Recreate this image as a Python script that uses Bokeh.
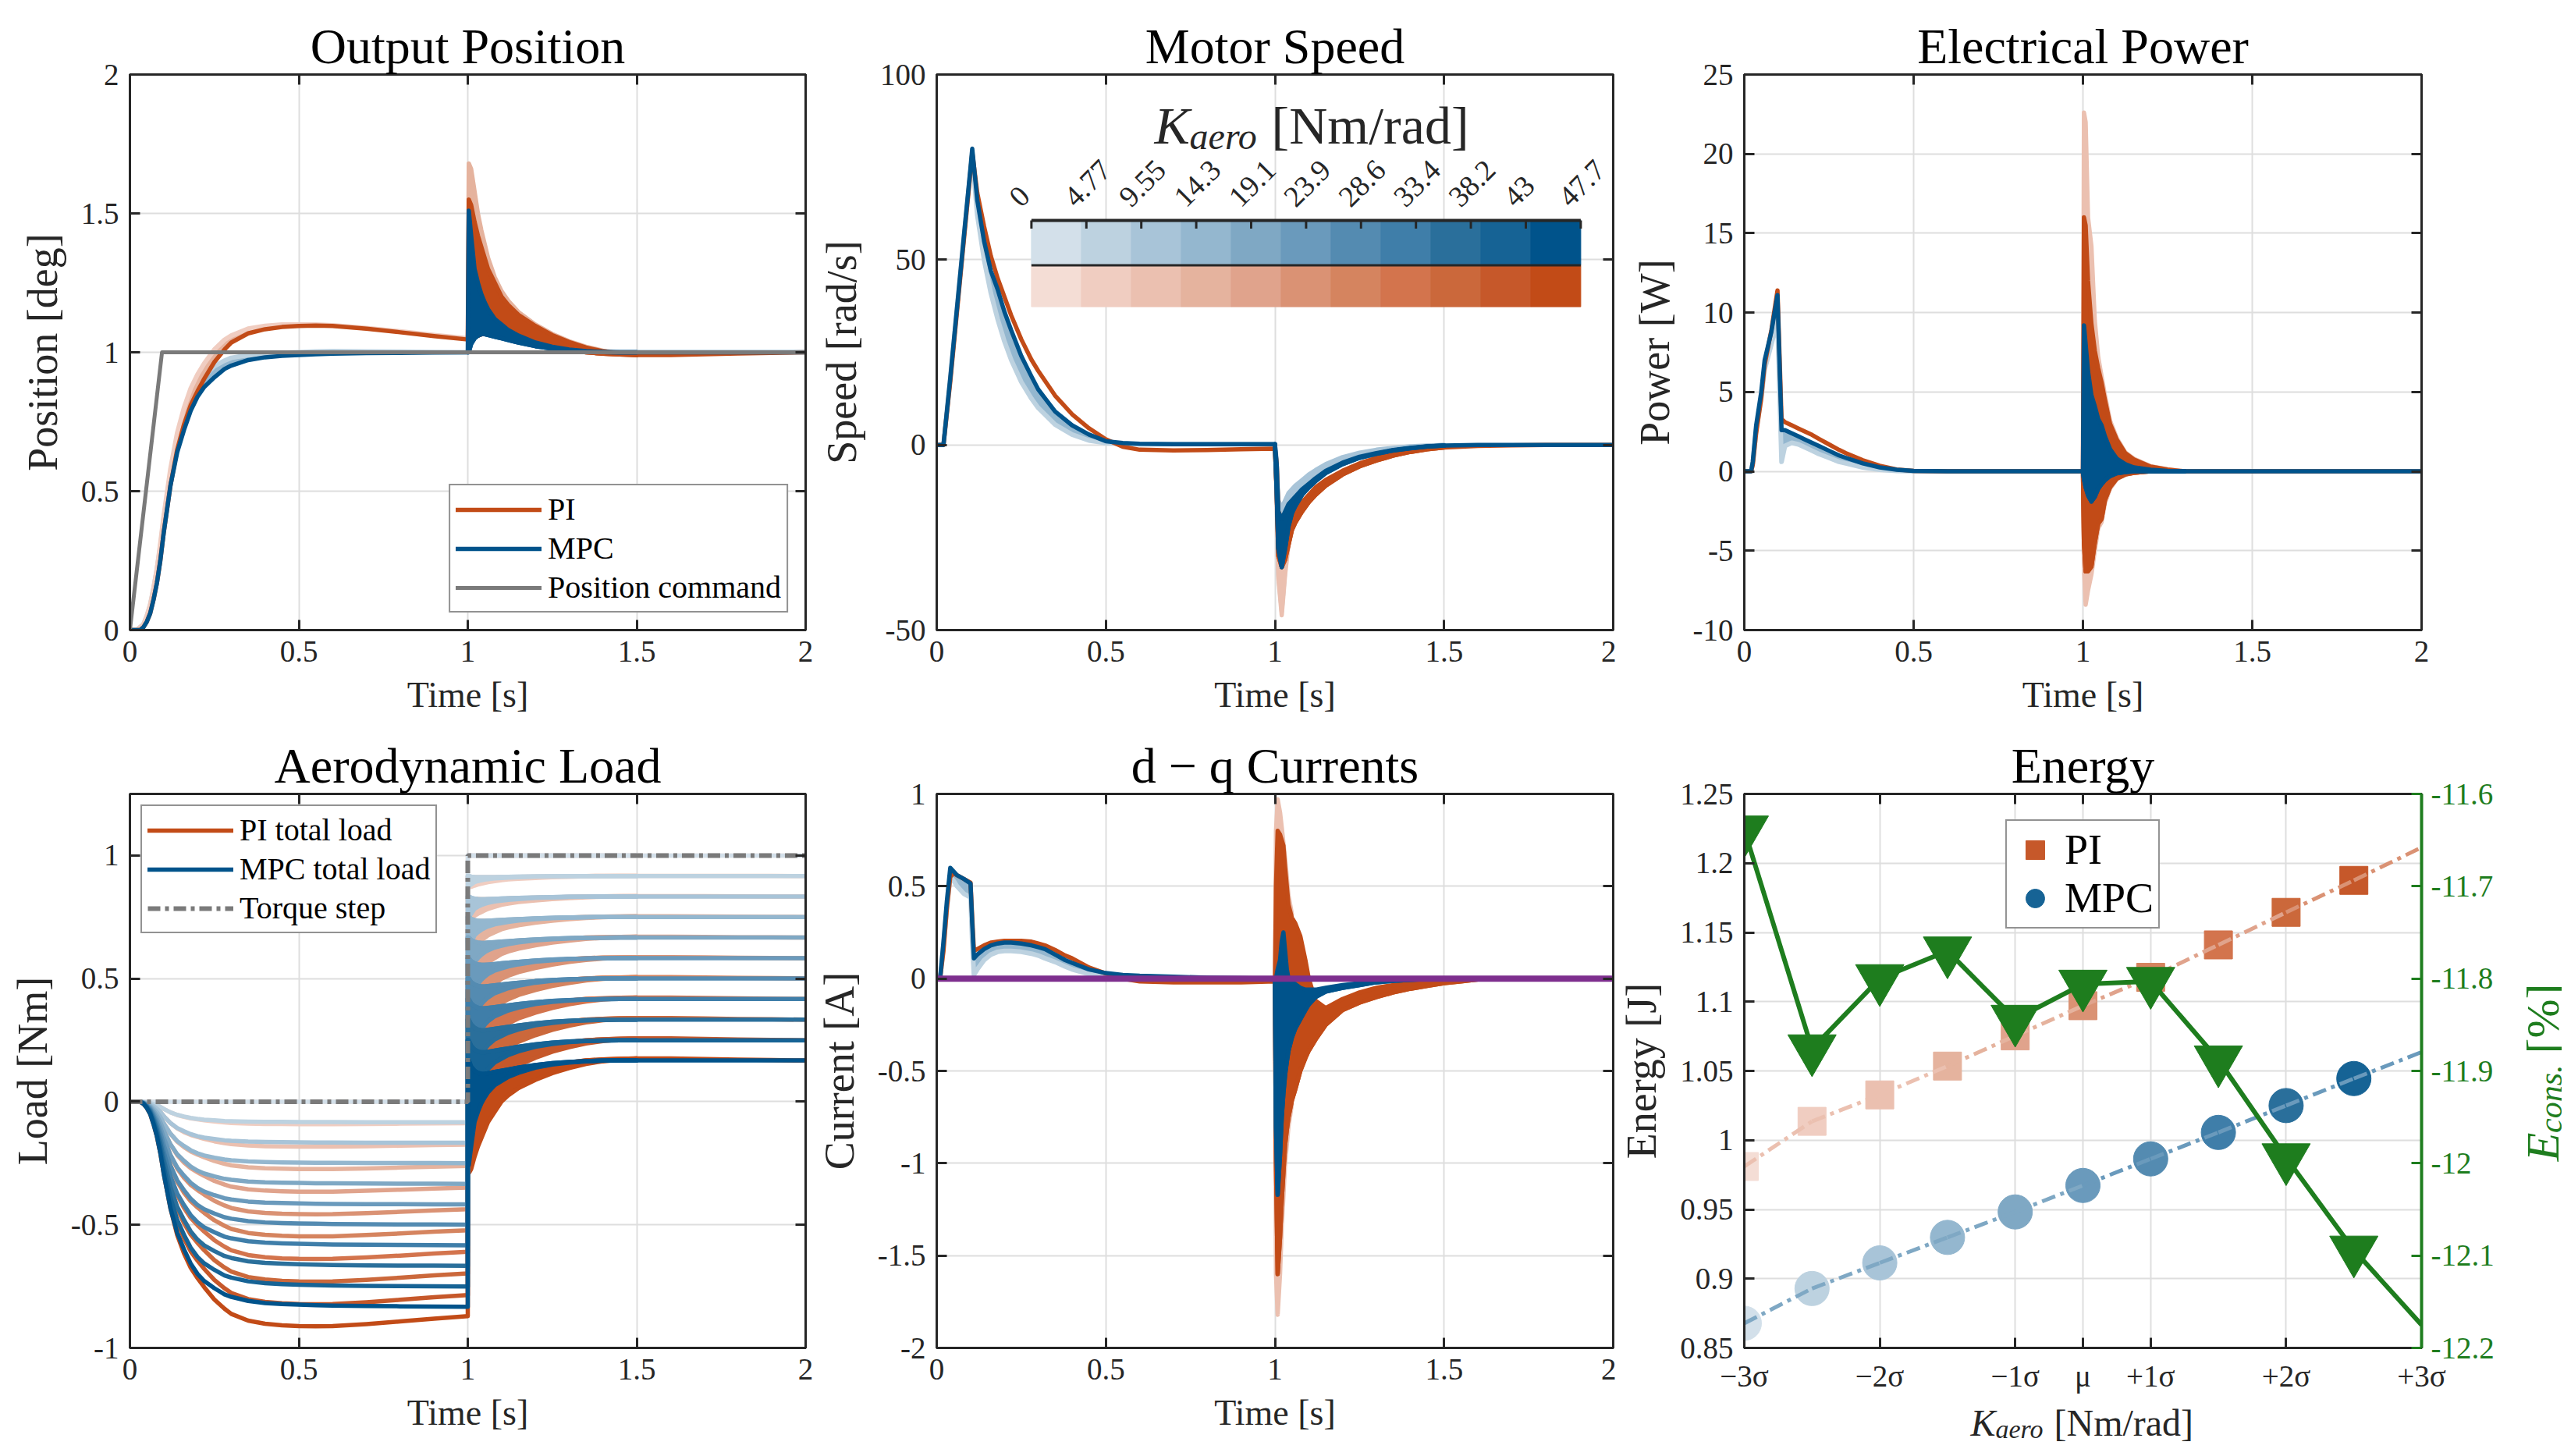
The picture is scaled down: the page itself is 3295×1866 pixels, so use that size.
import numpy as np
from math import pi
from bokeh.plotting import figure
from bokeh.models import (LinearAxis, Range1d, FixedTicker, Legend, LegendItem,
                          Label, LabelSet, ColumnDataSource)
from bokeh.layouts import row, column
from bokeh.embed import file_html
from bokeh.resources import INLINE
from bokeh.core.properties import value

FONT = "Liberation Serif"
AX = "#262626"
GRID = "#dedede"
GREEN = "#1e7d1e"
GRAY = "#7a7a7a"
PURPLE = "#7e2f8e"
LW = 5.5

# ---------------------------------------------------------------- data
K_AERO = [0, 4.77, 9.55, 14.3, 19.1, 23.9, 28.6, 33.4, 38.2, 43, 47.7]
K_LABELS = ["0", "4.77", "9.55", "14.3", "19.1", "23.9", "28.6", "33.4", "38.2", "43", "47.7"]
BLUES = ["#d3e0ea", "#bdd2e0", "#a8c4d8", "#94b7cf", "#7fa8c4", "#6a9abc",
         "#548bb1", "#3f7ea9", "#2a6f9b", "#166395", "#00538b"]
ORANGES = ["#f4ddd5", "#f0cdc1", "#ebc0b0", "#e5b39e", "#e0a38c", "#da9274",
           "#d5845f", "#d3744d", "#cb683b", "#c6582a", "#c24b17"]

TIME_TICKS = [0, 0.5, 1, 1.5, 2]

# Output position [deg]
T_POS = [0, 0.02, 0.03, 0.04, 0.05, 0.06, 0.07, 0.08, 0.09, 0.10, 0.12, 0.14, 0.16, 0.18,
         0.20, 0.22, 0.25, 0.28, 0.30, 0.35, 0.40, 0.45, 0.50, 0.55, 0.60, 0.70, 0.80, 0.90, 1.00]
POS_MPC_DARK = [0, 0, 0, 0.01, 0.03, 0.06, 0.11, 0.17, 0.25, 0.35, 0.52, 0.64, 0.72, 0.79,
                0.84, 0.875, 0.91, 0.94, 0.952, 0.972, 0.982, 0.987, 0.99, 0.993, 0.995, 0.997, 0.998, 0.999, 1.0]
POS_PI_DARK = [0, 0, 0, 0.01, 0.03, 0.06, 0.11, 0.17, 0.25, 0.35, 0.52, 0.65, 0.74, 0.81,
               0.86, 0.905, 0.965, 1.01, 1.035, 1.068, 1.083, 1.091, 1.095, 1.096, 1.095, 1.085, 1.072, 1.058, 1.046]
POS_PI_LIGHT = [0, 0, 0.01, 0.02, 0.05, 0.09, 0.15, 0.22, 0.31, 0.41, 0.58, 0.71, 0.80, 0.87,
                0.92, 0.96, 1.01, 1.045, 1.06, 1.085, 1.095, 1.10, 1.10, 1.10, 1.097, 1.087, 1.075, 1.062, 1.05]
POS_MPC_LIGHT = [0, 0, 0.01, 0.02, 0.05, 0.09, 0.15, 0.22, 0.30, 0.40, 0.56, 0.68, 0.77, 0.84,
                 0.88, 0.915, 0.95, 0.97, 0.98, 0.99, 0.995, 0.998, 1.0, 1.003, 1.004, 1.003, 1.002, 1.001, 1.0]
T_POS_STEP = [1.0, 1.003, 1.01, 1.02, 1.03, 1.04, 1.05, 1.06, 1.08, 1.10, 1.12, 1.15,
              1.20, 1.25, 1.30, 1.35, 1.40, 1.45, 1.50]
POS_PI_HI = [1.046, 1.55, 1.53, 1.47, 1.42, 1.38, 1.34, 1.30, 1.25, 1.20, 1.17, 1.135,
             1.095, 1.062, 1.037, 1.017, 1.004, 0.996, 0.99]
POS_PI_LO = [1.046, 1.05, 1.05, 1.055, 1.06, 1.065, 1.065, 1.065, 1.06, 1.055, 1.05, 1.04,
             1.03, 1.02, 1.01, 1.0, 0.995, 0.992, 0.99]
POS_PI_LIGHT_HI = [1.05, 1.68, 1.66, 1.58, 1.50, 1.44, 1.39, 1.34, 1.27, 1.22, 1.185, 1.145,
                   1.10, 1.066, 1.04, 1.02, 1.006, 0.997, 0.99]
POS_MPC_HI = [1.0, 1.51, 1.42, 1.30, 1.25, 1.21, 1.18, 1.155, 1.12, 1.10, 1.08, 1.06,
              1.035, 1.02, 1.01, 1.004, 1.001, 1.0, 1.0]
POS_MPC_LO = [1.0, 1.0, 1.03, 1.05, 1.06, 1.065, 1.065, 1.062, 1.056, 1.05, 1.044, 1.035,
              1.022, 1.013, 1.007, 1.003, 1.001, 1.0, 1.0]
T_POS_TAIL_PI = [1.5, 1.6, 1.7, 1.8, 1.9, 2.0]
POS_TAIL_PI = [0.99, 0.99, 0.993, 0.996, 0.998, 1.0]
T_POS_TAIL_MPC = [1.5, 2.0]
POS_TAIL_MPC = [1.0, 1.0]
T_CMD = [0, 0.095, 2.0]
POS_CMD = [0, 1, 1]

# Motor speed [rad/s]
T_SPD = [0, 0.02, 0.04, 0.06, 0.08, 0.10, 0.105, 0.12, 0.14, 0.16, 0.18, 0.20, 0.22, 0.25,
         0.28, 0.30, 0.35, 0.40, 0.45, 0.50, 0.55, 0.60, 0.70, 0.80, 0.90, 1.00]
SPD_MPC_DARK = [0, 0, 18, 37, 56, 75, 80, 66, 55, 47, 42, 36, 31, 24, 18.5, 15, 9, 5.3, 2.8,
                1.0, 0.5, 0.3, 0.2, 0.2, 0.2, 0.2]
SPD_PI_DARK = [0, 0, 17, 36, 55, 74, 79, 68, 59, 51, 45, 40, 35, 28.5, 23, 20, 13.3, 8.3, 4.5,
               1.5, -0.5, -1.3, -1.5, -1.4, -1.2, -1.0]
SPD_MPC_LIGHT = [0, 0, 18, 37, 56, 74, 78, 62, 50, 41, 34, 28, 23, 17, 12.5, 10, 5.5, 2.8, 1.2,
                 0.5, 0.3, 0.2, 0.2, 0.2, 0.2, 0.2]
SPD_PI_LIGHT = [0, 0, 17, 36, 55, 73, 77, 66, 56, 48, 42, 37, 32, 25.5, 20, 17, 11, 6.5, 3.2,
                0.8, -0.8, -1.3, -1.4, -1.3, -1.1, -1.0]
T_SPD_STEP = [1.0, 1.005, 1.01, 1.02, 1.03, 1.04, 1.05, 1.06, 1.08, 1.10, 1.12, 1.15, 1.20,
              1.25, 1.30, 1.35, 1.40, 1.45, 1.50]
SPD_MPC_HI = [0.2, -5, -18, -20, -18, -16, -15, -14, -12, -10.5, -9, -7, -4.8, -3.2, -2.2,
              -1.4, -0.8, -0.4, -0.2]
SPD_MPC_LO = [0.2, -12, -28, -33, -28, -22, -18.5, -16.5, -13.5, -11.5, -9.8, -7.6, -5.2,
              -3.5, -2.4, -1.5, -0.9, -0.45, -0.2]
SPD_MPC_LIGHT_HI = [0.2, -4, -15, -17, -15, -13, -12, -11, -9.5, -8, -6.8, -5.2, -3.3, -2.1,
                    -1.3, -0.8, -0.4, -0.2, 0.0]
SPD_MPC_LIGHT_LO = [0.2, -14, -35, -45, -34, -24, -19, -16, -12.5, -10.2, -8.5, -6.5, -4.3,
                    -2.9, -1.9, -1.2, -0.7, -0.3, 0.0]
SPD_PI_HI = [-1.0, -5, -18, -20, -20, -19, -18.5, -18, -15.5, -13.5, -11.5, -9.5, -7, -5,
             -3.5, -2.4, -1.6, -1.0, -0.6]
SPD_PI_LO = [-1.0, -12, -30, -33, -31, -27, -23, -21, -18, -15.5, -13.5, -11, -8, -5.8, -4.2,
             -2.9, -1.9, -1.2, -0.7]
SPD_PI_LIGHT_LO = [-1.0, -14, -36, -46, -35, -27, -23, -21, -18, -15.5, -13.5, -11, -8, -5.8,
                   -4.2, -2.9, -1.9, -1.2, -0.7]
T_SPD_TAIL_PI = [1.5, 1.6, 1.7, 1.8, 2.0]
SPD_TAIL_PI = [-0.7, -0.3, -0.1, 0, 0]
T_SPD_TAIL_MPC = [1.5, 1.6, 2.0]
SPD_TAIL_MPC = [-0.2, 0, 0]

# Electrical power [W]
T_PWR = [0, 0.02, 0.025, 0.035, 0.05, 0.06, 0.08, 0.098, 0.11, 0.12, 0.14, 0.16, 0.18, 0.20,
         0.22, 0.25, 0.28, 0.30, 0.35, 0.40, 0.45, 0.50, 0.60, 1.00]
PWR_MPC_DARK = [0, 0, 0.6, 2.9, 5.0, 7.0, 8.8, 11.1, 2.6, 2.6, 2.4, 2.2, 2.0, 1.8, 1.6, 1.3,
                1.0, 0.85, 0.5, 0.25, 0.1, 0.03, 0, 0]
PWR_PI_DARK = [0, 0, 0.4, 2.4, 4.6, 6.7, 8.9, 11.4, 3.3, 3.1, 2.9, 2.7, 2.5, 2.3, 2.05, 1.7,
               1.35, 1.15, 0.7, 0.35, 0.12, 0.03, 0, 0]
PWR_MPC_LIGHT = [0, 0, 0.5, 2.6, 4.6, 6.4, 8.0, 9.5, 0.6, 1.6, 1.8, 1.7, 1.5, 1.3, 1.1, 0.85,
                 0.6, 0.5, 0.25, 0.1, 0.03, 0, 0, 0]
T_PWR_STEP = [1.0, 1.003, 1.008, 1.015, 1.025, 1.035, 1.045, 1.055, 1.065, 1.08, 1.10, 1.125,
              1.15, 1.20, 1.25, 1.30]
PWR_PI_HI = [0, 16, 15.5, 12, 9.3, 7.6, 6.5, 5.6, 4.5, 3.0, 2.0, 1.15, 0.75, 0.3, 0.12, 0]
PWR_PI_LO = [0, -4.5, -6.3, -6.3, -6.0, -4.5, -3.3, -3.0, -1.8, -1.0, -0.45, -0.2, -0.1, 0, 0, 0]
PWR_PI_LIGHT_HI = [0, 22.6, 22, 16, 14.2, 9.5, 7.2, 6, 4.8, 3.2, 2.1, 1.2, 0.8, 0.32, 0.13, 0]
PWR_PI_LIGHT_LO = [0, -6, -8.4, -7.5, -6.5, -5, -3.6, -3.2, -2, -1.1, -0.5, -0.2, -0.1, 0, 0, 0]
PWR_MPC_HI = [0, 9.2, 8, 6.3, 4.8, 4.1, 3.3, 2.9, 2.2, 1.4, 0.8, 0.45, 0.25, 0.1, 0.03, 0]
PWR_MPC_LO = [0, -0.5, -1.0, -1.5, -1.9, -1.6, -1.1, -0.8, -0.55, -0.3, -0.12, -0.05, 0, 0, 0, 0]
T_PWR_TAIL = [1.3, 2.0]
PWR_TAIL = [0, 0]

# d-q currents [A]
T_CUR = [0, 0.01, 0.02, 0.03, 0.04, 0.05, 0.06, 0.08, 0.10, 0.105, 0.11, 0.12, 0.14, 0.16,
         0.18, 0.20, 0.22, 0.25, 0.28, 0.30, 0.32, 0.35, 0.38, 0.40, 0.45, 0.50, 0.55, 0.60,
         0.70, 0.80, 0.90, 1.00]
CUR_MPC_DARK = [0, 0, 0.2, 0.42, 0.6, 0.58, 0.56, 0.54, 0.515, 0.3, 0.11, 0.13, 0.16, 0.18,
                0.19, 0.195, 0.195, 0.19, 0.18, 0.17, 0.16, 0.13, 0.1, 0.085, 0.05, 0.03, 0.02,
                0.015, 0.01, 0.005, 0.003, 0.0]
CUR_PI_DARK = [0, 0, 0.15, 0.38, 0.55, 0.57, 0.56, 0.54, 0.52, 0.33, 0.15, 0.16, 0.18, 0.195,
               0.2, 0.205, 0.205, 0.205, 0.2, 0.19, 0.18, 0.155, 0.125, 0.11, 0.06, 0.028, 0.0,
               -0.015, -0.02, -0.02, -0.02, -0.015]
CUR_MPC_LIGHT = [0, 0, 0.18, 0.38, 0.55, 0.53, 0.5, 0.46, 0.44, 0.2, 0.02, 0.05, 0.1, 0.13,
                 0.145, 0.15, 0.15, 0.145, 0.135, 0.125, 0.11, 0.09, 0.065, 0.05, 0.025, 0.01,
                 0.005, 0, 0, 0, 0, 0]
T_CUR_STEP = [1.0, 1.003, 1.008, 1.015, 1.02, 1.025, 1.03, 1.035, 1.04, 1.05, 1.06, 1.075,
              1.09, 1.10, 1.12, 1.15, 1.20, 1.25, 1.30, 1.35, 1.40, 1.45, 1.50, 1.55, 1.60]
CUR_PI_HI = [-0.015, 0.5, 0.8, 0.78, 0.75, 0.72, 0.6, 0.5, 0.4, 0.33, 0.3, 0.23, 0.1, 0.0,
             -0.12, -0.16, -0.11, -0.075, -0.05, -0.035, -0.025, -0.015, -0.01, -0.005, 0]
CUR_PI_LO = [-0.015, -1.0, -1.6, -1.4, -1.2, -1.05, -0.9, -0.82, -0.75, -0.66, -0.6, -0.5,
             -0.43, -0.39, -0.33, -0.25, -0.17, -0.13, -0.1, -0.075, -0.055, -0.04, -0.025,
             -0.015, -0.005]
CUR_MPC_HI = [0, 0.0, 0.05, 0.1, 0.2, 0.25, 0.15, 0.05, 0.0, -0.02, -0.03, -0.05, -0.06,
              -0.06, -0.06, -0.05, -0.035, -0.025, -0.015, -0.01, -0.005, 0, 0, 0, 0]
CUR_MPC_LO = [0, -0.8, -1.17, -0.95, -0.75, -0.62, -0.52, -0.45, -0.39, -0.32, -0.27, -0.22,
              -0.17, -0.14, -0.1, -0.07, -0.05, -0.035, -0.02, -0.012, -0.007, -0.003, 0, 0, 0]
T_CUR_LIGHT = [1.0, 1.003, 1.008, 1.015, 1.02, 1.03, 1.04, 1.05]
CUR_PI_LIGHT_HI = [0, 0.8, 0.97, 0.9, 0.82, 0.65, 0.45, 0.35]
CUR_PI_LIGHT_LO = [0, -1.6, -1.82, -1.6, -1.35, -1.0, -0.8, -0.68]
T_CUR_TAIL = [1.6, 2.0]
CUR_TAIL = [0, 0]
T_ID = [0, 2.0]
CUR_D = [0, 0]

# Energy
SIGMA_IDX = [0, 1, 2, 3, 4, 5, 6, 7, 8, 9, 10]
SIGMA_TICKS = [0, 2, 4, 5, 6, 8, 10]
SIGMA_LABELS = ["\u22123\u03c3", "\u22122\u03c3", "\u22121\u03c3", "\u03bc", "+1\u03c3", "+2\u03c3", "+3\u03c3"]
E_PI = [0.981, 1.0136, 1.0327, 1.0535, 1.0753, 1.0971, 1.1176, 1.141, 1.1645, 1.1876, 1.2114]
E_MPC = [0.8678, 0.8929, 0.9114, 0.9298, 0.9482, 0.9673, 0.9865, 1.0056, 1.025, 1.0445, 1.0636]
E_CONS = [-11.639, -11.876, -11.800, -11.770, -11.844, -11.806, -11.803, -11.888, -11.994,
          -12.094, -12.175]
N_MARK = 10
E_TICKS = [0.85, 0.9, 0.95, 1.0, 1.05, 1.1, 1.15, 1.2, 1.25]
ECONS_TICKS = [-12.2, -12.1, -12.0, -11.9, -11.8, -11.7, -11.6]

RAD = pi / 180.0


# ---------------------------------------------------------------- helpers
def fmt(v):
    return "%g" % v


def style_axis(ax, color=AX):
    ax.axis_line_color = color
    ax.axis_line_width = 3
    ax.major_tick_line_color = color
    ax.major_tick_line_width = 3
    ax.major_tick_in = 13
    ax.major_tick_out = 0
    ax.minor_tick_line_color = None
    ax.major_label_text_font = FONT
    ax.major_label_text_font_size = "39px"
    ax.major_label_text_color = color
    ax.major_label_standoff = 14
    ax.axis_label_text_font = FONT
    ax.axis_label_text_font_style = "normal"
    ax.axis_label_text_color = color
    ax.axis_label_standoff = 16


def make_fig(title, xr, yr, fw, fh, bl, br, bt, bb):
    p = figure(title=title, x_range=Range1d(*xr), y_range=Range1d(*yr),
               frame_width=fw, frame_height=fh,
               min_border_left=bl, min_border_right=br,
               min_border_top=bt, min_border_bottom=bb,
               output_backend="svg", toolbar_location=None)
    p.title.text_font = FONT
    p.title.text_font_size = "64px"
    p.title.text_font_style = "normal"
    p.title.align = "center"
    p.title.text_color = "#000000"
    p.title.standoff = 2
    p.outline_line_color = AX
    p.outline_line_width = 3
    p.outline_line_alpha = 1.0
    p.grid.grid_line_color = GRID
    p.grid.grid_line_width = 2
    p.background_fill_color = "white"
    p.border_fill_color = "white"
    return p


def blank_fig(fw, fh, bt=0, bb=0):
    p = figure(x_range=Range1d(0, 1), y_range=Range1d(0, 1), frame_width=fw, frame_height=fh,
               min_border=0, min_border_left=0, min_border_right=0, min_border_top=bt,
               min_border_bottom=bb, x_axis_location=None, y_axis_location=None,
               output_backend="svg", toolbar_location=None)
    p.outline_line_color = None
    p.grid.visible = False
    p.background_fill_color = "white"
    p.border_fill_color = "white"
    return p


def mirror(p, side, ticks):
    ax = LinearAxis(ticker=FixedTicker(ticks=ticks))
    style_axis(ax)
    ax.major_label_overrides = {v: "" for v in ticks}
    ax.major_label_text_font_size = "1px"
    ax.major_label_standoff = 0
    p.add_layout(ax, side)


def set_ticks(p, xt, yt, xlab, ylab, xlabels=None, mirror_x=True, mirror_y=True):
    p.xaxis.ticker = FixedTicker(ticks=xt)
    p.yaxis.ticker = FixedTicker(ticks=yt)
    p.xaxis.major_label_overrides = xlabels if xlabels else {v: fmt(v) for v in xt}
    p.yaxis.major_label_overrides = {v: fmt(v) for v in yt}
    p.xaxis.axis_label = xlab
    p.yaxis.axis_label = ylab
    for ax in p.xaxis:
        style_axis(ax)
        ax.axis_label_text_font_size = "46px"
        ax.axis_label_standoff = 14
    for ax in p.yaxis:
        style_axis(ax)
        ax.axis_label_text_font_size = "54px"
        ax.axis_label_standoff = 16
    if mirror_x:
        mirror(p, "above", xt)
    if mirror_y:
        mirror(p, "right", yt)


def curve(p, t, y, color, lw=LW, **kw):
    return p.line(t, y, line_color=color, line_width=lw, line_join="round",
                  line_cap="round", **kw)


def band(p, t, lo, hi, color, lw=LW):
    p.varea(x=t, y1=lo, y2=hi, fill_color=color)
    curve(p, t, lo, color, lw)
    curve(p, t, hi, color, lw)


def spread(p, t, a, b, color):
    p.varea(x=t, y1=a, y2=b, fill_color=color)


def legend_style(leg, size="40px"):
    leg.label_text_font = FONT
    leg.label_text_font_size = size
    leg.label_text_color = "#000000"
    leg.border_line_color = AX
    leg.border_line_width = 2
    leg.background_fill_color = "white"
    leg.background_fill_alpha = 1.0
    leg.glyph_width = 110
    leg.glyph_height = 40
    leg.label_height = 40
    leg.spacing = 3
    leg.padding = 7
    leg.label_standoff = 8


def part(p, text, size, style, x, y, xo, yo, color=AX, angle=0, align="left"):
    p.add_layout(Label(x=x, y=y, x_offset=xo, y_offset=yo, text=text, text_font=FONT,
                       text_font_size=size, text_font_style=style, text_color=color,
                       angle=angle, angle_units="deg", text_align=align,
                       text_baseline="alphabetic"))


# layout borders (px)
TOP1, FH1, BOT1 = 95, 712, 130
TOP2, FH2, BOT2 = 80, 710, 130
BOT6 = 62
RIGHT6 = 98
W6R = 82

# ---------------------------------------------------------------- 1 Output position
p1 = make_fig("Output Position", (0, 2), (0, 2), 866, FH1, 166, 10, TOP1, BOT1)
set_ticks(p1, TIME_TICKS, [0, 0.5, 1, 1.5, 2], "Time [s]", "Position [deg]")
spread(p1, T_POS, POS_MPC_LIGHT, POS_MPC_DARK, BLUES[3])
curve(p1, T_POS, POS_MPC_LIGHT, BLUES[1], 6)
spread(p1, T_POS, POS_PI_LIGHT, POS_PI_DARK, ORANGES[3])
curve(p1, T_POS, POS_PI_LIGHT, ORANGES[1], 6)
band(p1, T_POS_STEP, POS_PI_LO, POS_PI_LIGHT_HI, ORANGES[3])
r_pi1 = curve(p1, T_POS + T_POS_STEP + T_POS_TAIL_PI, POS_PI_DARK + POS_PI_LO + POS_TAIL_PI, ORANGES[10])
band(p1, T_POS_STEP, POS_PI_LO, POS_PI_HI, ORANGES[10])
r_mpc1 = curve(p1, T_POS + T_POS_STEP + T_POS_TAIL_MPC, POS_MPC_DARK + POS_MPC_LO + POS_TAIL_MPC, BLUES[10])
band(p1, T_POS_STEP, POS_MPC_LO, POS_MPC_HI, BLUES[10])
r_cmd = curve(p1, T_CMD, POS_CMD, GRAY, 5)
leg1 = Legend(items=[LegendItem(label="PI", renderers=[r_pi1]),
                     LegendItem(label="MPC", renderers=[r_mpc1]),
                     LegendItem(label="Position command", renderers=[r_cmd])],
              location="bottom_right")
legend_style(leg1)
leg1.margin = 22
p1.add_layout(leg1)

# ---------------------------------------------------------------- 2 Motor speed
p2 = make_fig("Motor Speed", (0, 2), (-50, 100), 867, FH1, 158, 4, TOP1, BOT1)
set_ticks(p2, TIME_TICKS, [-50, 0, 50, 100], "Time [s]", "Speed [rad/s]")
band(p2, T_SPD_STEP, SPD_MPC_LIGHT_LO, SPD_MPC_LIGHT_HI, BLUES[2])
spread(p2, T_SPD, SPD_MPC_LIGHT, SPD_MPC_DARK, BLUES[3])
curve(p2, T_SPD, SPD_MPC_LIGHT, BLUES[1], 6)
band(p2, T_SPD_STEP, SPD_PI_LIGHT_LO, SPD_PI_HI, ORANGES[2])
curve(p2, T_SPD + T_SPD_STEP + T_SPD_TAIL_PI, SPD_PI_DARK + SPD_PI_LO + SPD_TAIL_PI, ORANGES[10])
band(p2, T_SPD_STEP, SPD_PI_LO, SPD_PI_HI, ORANGES[10])
curve(p2, T_SPD + T_SPD_STEP + T_SPD_TAIL_MPC, SPD_MPC_DARK + SPD_MPC_LO + SPD_TAIL_MPC, BLUES[10])
band(p2, T_SPD_STEP, SPD_MPC_LO, SPD_MPC_HI, BLUES[10])

# colour bar legend for K_aero (placed as fractions of the axes)
CB_X0, CB_X1 = 0.280, 1.904
CB_TOP, CB_MID, CB_BOT = 60.6, 48.5, 37.3
n_k = len(K_AERO)
cw = (CB_X1 - CB_X0) / n_k
cb_src = ColumnDataSource(dict(
    left=[CB_X0 + i * cw for i in range(n_k)],
    right=[CB_X0 + (i + 1) * cw for i in range(n_k)],
    cblue=BLUES, corange=ORANGES))
p2.quad(left="left", right="right", top=CB_TOP, bottom=CB_MID, fill_color="cblue",
        line_color="cblue", line_width=1, source=cb_src)
p2.quad(left="left", right="right", top=CB_MID, bottom=CB_BOT, fill_color="corange",
        line_color="corange", line_width=1, source=cb_src)
tick_x = [CB_X0 + i * (CB_X1 - CB_X0) / (n_k - 1) for i in range(n_k)]
p2.segment(x0=[CB_X0], y0=[CB_TOP], x1=[CB_X1], y1=[CB_TOP], line_color=AX, line_width=4)
p2.segment(x0=[CB_X0], y0=[CB_MID], x1=[CB_X1], y1=[CB_MID], line_color=AX, line_width=3)
p2.segment(x0=tick_x, y0=[CB_TOP] * n_k, x1=tick_x, y1=[CB_TOP - 2.2] * n_k,
           line_color=AX, line_width=3)
lab_src = ColumnDataSource(dict(x=tick_x, y=[CB_TOP] * n_k, text=K_LABELS))
p2.add_layout(LabelSet(x="x", y="y", text="text", source=lab_src, angle=45, angle_units="deg",
                       x_offset=-22, y_offset=24, text_font=value(FONT),
                       text_font_size=value("38px"), text_color=value(AX),
                       text_align="left", text_baseline="middle"))
cb_cx, cb_ty = 1.089, 86.3
part(p2, "K", "68px", "italic", cb_cx, cb_ty, -193, 0)
part(p2, "aero", "48px", "italic", cb_cx, cb_ty, -148, -14)
part(p2, "[Nm/rad]", "68px", "normal", cb_cx, cb_ty, -43, 0)

# ---------------------------------------------------------------- 3 Electrical power
p3 = make_fig("Electrical Power", (0, 2), (-10, 25), 868, FH1, 164, 20, TOP1, BOT1)
set_ticks(p3, TIME_TICKS, [-10, -5, 0, 5, 10, 15, 20, 25], "Time [s]", "Power [W]")
spread(p3, T_PWR, PWR_MPC_LIGHT, PWR_MPC_DARK, BLUES[3])
curve(p3, T_PWR, PWR_MPC_LIGHT, BLUES[1], 6)
band(p3, T_PWR_STEP, PWR_PI_LIGHT_LO, PWR_PI_LIGHT_HI, ORANGES[2])
curve(p3, T_PWR + T_PWR_STEP + T_PWR_TAIL, PWR_PI_DARK + PWR_PI_LO + PWR_TAIL, ORANGES[10])
band(p3, T_PWR_STEP, PWR_PI_LO, PWR_PI_HI, ORANGES[10])
curve(p3, T_PWR + T_PWR_STEP + T_PWR_TAIL, PWR_MPC_DARK + PWR_MPC_LO + PWR_TAIL, BLUES[10])
band(p3, T_PWR_STEP, PWR_MPC_LO, PWR_MPC_HI, BLUES[10])

# ---------------------------------------------------------------- 4 Aerodynamic load
# total load = torque step - K_aero * position (position converted to rad)
p4 = make_fig("Aerodynamic Load", (0, 2), (-1, 1.25), 866, FH2, 166, 10, TOP2, BOT2)
set_ticks(p4, TIME_TICKS, [-1, -0.5, 0, 0.5, 1], "Time [s]", "Load [Nm]")
r_pi4 = r_mpc4 = None
for pos_pre, pos_hi, pos_lo, t_tail, pos_tail, pal, tag in [
        (POS_PI_DARK, POS_PI_HI, POS_PI_LO, T_POS_TAIL_PI, POS_TAIL_PI, ORANGES, "pi"),
        (POS_MPC_DARK, POS_MPC_HI, POS_MPC_LO, T_POS_TAIL_MPC, POS_TAIL_MPC, BLUES, "mpc")]:
    for i, k in enumerate(K_AERO):
        pre = [-k * RAD * v for v in pos_pre]
        lo = [1 - k * RAD * v for v in pos_hi]
        hi = [1 - k * RAD * v for v in pos_lo]
        tail = [1 - k * RAD * v for v in pos_tail]
        band(p4, T_POS_STEP, lo, hi, pal[i])
        r = curve(p4, T_POS + T_POS_STEP + t_tail, pre + hi + tail, pal[i])
        if tag == "pi":
            r_pi4 = r
        else:
            r_mpc4 = r
T_STEP = [0, 1, 1, 2]
TORQUE_STEP = [0, 0, 1, 1]
r_step = p4.line(T_STEP, TORQUE_STEP, line_color=GRAY, line_width=6, line_dash="16 6 5 6")
leg4 = Legend(items=[LegendItem(label="PI total load", renderers=[r_pi4]),
                     LegendItem(label="MPC total load", renderers=[r_mpc4]),
                     LegendItem(label="Torque step", renderers=[r_step])],
              location="top_left")
legend_style(leg4)
leg4.margin = 14
p4.add_layout(leg4)

# ---------------------------------------------------------------- 5 d-q currents
p5 = make_fig("d \u2212 q Currents", (0, 2), (-2, 1), 867, FH2, 158, 4, TOP2, BOT2)
set_ticks(p5, TIME_TICKS, [-2, -1.5, -1, -0.5, 0, 0.5, 1], "Time [s]", "Current [A]")
spread(p5, T_CUR, CUR_MPC_LIGHT, CUR_MPC_DARK, BLUES[3])
curve(p5, T_CUR, CUR_MPC_LIGHT, BLUES[1], 6)
band(p5, T_CUR_LIGHT, CUR_PI_LIGHT_LO, CUR_PI_LIGHT_HI, ORANGES[2])
curve(p5, T_CUR + T_CUR_STEP + T_CUR_TAIL, CUR_PI_DARK + CUR_PI_LO + CUR_TAIL, ORANGES[10])
band(p5, T_CUR_STEP, CUR_PI_LO, CUR_PI_HI, ORANGES[10])
curve(p5, T_CUR + T_CUR_STEP + T_CUR_TAIL, CUR_MPC_DARK + CUR_MPC_LO + CUR_TAIL, BLUES[10])
band(p5, T_CUR_STEP, CUR_MPC_LO, CUR_MPC_HI, BLUES[10])
curve(p5, T_ID, CUR_D, PURPLE, 8)

# ---------------------------------------------------------------- 6 Energy
p6 = make_fig("Energy", (0, 10), (0.85, 1.25), 868, FH2, 164, RIGHT6, TOP2, BOT6)
p6.extra_y_ranges = {"econs": Range1d(-12.2, -11.6)}
set_ticks(p6, SIGMA_TICKS, E_TICKS, None, "Energy [J]",
          xlabels={v: s for v, s in zip(SIGMA_TICKS, SIGMA_LABELS)}, mirror_y=False)
ax_r = LinearAxis(y_range_name="econs", ticker=FixedTicker(ticks=ECONS_TICKS))
style_axis(ax_r, GREEN)
ax_r.axis_line_width = 4
ax_r.major_label_standoff = 12
ax_r.major_label_overrides = {v: fmt(v) for v in ECONS_TICKS}
p6.add_layout(ax_r, "right")

e_src = ColumnDataSource(dict(x=SIGMA_IDX[:N_MARK], pi=E_PI[:N_MARK], mpc=E_MPC[:N_MARK],
                              cpi=ORANGES[:N_MARK], cmpc=BLUES[:N_MARK]))
r_sq = p6.scatter("x", "pi", source=e_src, marker="square", size=36,
                  fill_color="cpi", line_color="cpi")
r_ci = p6.scatter("x", "mpc", source=e_src, marker="circle", size=44,
                  fill_color="cmpc", line_color="cmpc")
seg_x = [[SIGMA_IDX[i], SIGMA_IDX[i + 1]] for i in range(len(SIGMA_IDX) - 1)]
p6.multi_line(xs=seg_x, ys=[[E_PI[i], E_PI[i + 1]] for i in range(len(E_PI) - 1)],
              line_color=[ORANGES[2 + (i * 4) // 10] for i in range(len(seg_x))],
              line_width=5, line_dash="18 7 5 7")
p6.multi_line(xs=seg_x, ys=[[E_MPC[i], E_MPC[i + 1]] for i in range(len(E_MPC) - 1)],
              line_color=[BLUES[4 + (i * 2) // 10] for i in range(len(seg_x))],
              line_width=5, line_dash="18 7 5 7")
p6.line(SIGMA_IDX, E_CONS, y_range_name="econs", line_color=GREEN, line_width=6,
        line_join="round")
p6.scatter(SIGMA_IDX[:N_MARK], E_CONS[:N_MARK], y_range_name="econs",
           marker="inverted_triangle", size=62, fill_color=GREEN, line_color=GREEN)
leg6 = Legend(items=[LegendItem(label="PI", renderers=[r_sq], index=N_MARK - 1),
                     LegendItem(label="MPC", renderers=[r_ci], index=N_MARK - 1)],
              location="top_center")
legend_style(leg6, "54px")
leg6.glyph_width = 60
leg6.glyph_height = 60
leg6.label_height = 60
leg6.spacing = 0
leg6.padding = 6
leg6.margin = 33
p6.add_layout(leg6)

# composite axis titles with italic subscripts, drawn in thin blank panels
# (the right panel shares the energy plot's top/bottom borders so its frame lines up;
#  the rotated pieces are anchored at their upper ends)
p6r = blank_fig(W6R, FH2, TOP2, BOT6)
part(p6r, "E", "60px", "italic", 0.70, 0.5, 0, -79, GREEN, 90, "right")
part(p6r, "cons.", "42px", "italic", 0.70, 0.5, 10, 8, GREEN, 90, "right")
part(p6r, "[%]", "60px", "normal", 0.70, 0.5, 0, 112, GREEN, 90, "right")
W6B = 164 + 868 + RIGHT6 + W6R
HB = BOT2 - BOT6
p6b = blank_fig(W6B, HB)
part(p6b, "K", "48px", "italic", (2669 - 2075) / W6B, 0.5, -140, 0)
part(p6b, "aero", "34px", "italic", (2669 - 2075) / W6B, 0.5, -108, -8)
part(p6b, "[Nm/rad]", "48px", "normal", (2669 - 2075) / W6B, 0.5, -33, 0)

layout = column(row(p1, p2, p3), row(p4, p5, column(row(p6, p6r), p6b)))
open("out.html", "w").write(file_html(layout, INLINE, title="Controller comparison"))
